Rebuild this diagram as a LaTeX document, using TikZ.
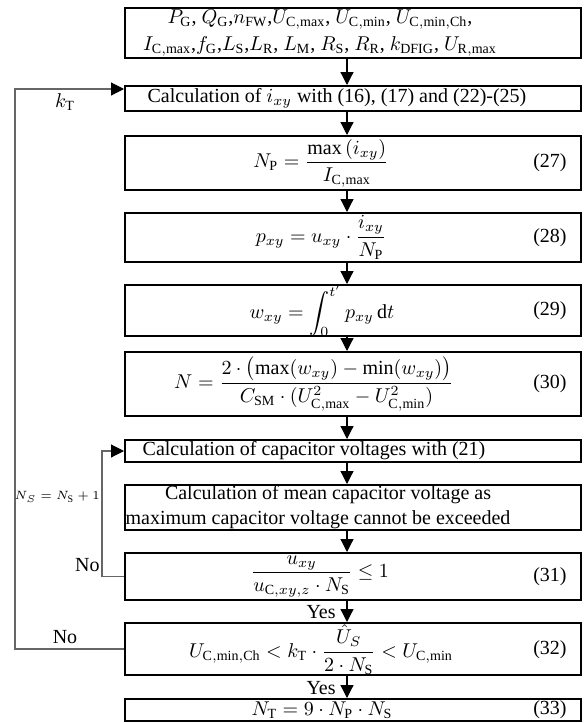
\documentclass[tikz,border=0pt]{standalone}
\usepackage{amsmath}
\usepackage{fontspec}
\setmainfont{Liberation Serif}
\usetikzlibrary{arrows.meta,fit}
\newcommand{\rmsub}[1]{\mathrm{#1}}
\begin{document}
\begin{tikzpicture}[x=0.5pt,y=-0.5pt,
  box/.style={draw=black,line width=1pt,inner sep=0pt,rectangle},
  flow/.style={draw=black,line width=0.6pt,-{Triangle[width=6.5pt,length=6.5pt]}},
  loopline/.style={draw=black!60,line width=0.55pt},
  looparr/.style={loopline,-{Triangle[width=6.5pt,length=6.5pt,color=black]}},
  txt/.style={inner sep=0pt,font=\fontsize{10}{12.5}\selectfont},
  eqno/.style={txt,anchor=east},
  small/.style={inner sep=0pt,font=\fontsize{6}{7}\selectfont}]
\useasboundingbox (0,0) rectangle (586,723);

% boxes
\node[box,fit={(125,8) (581,58)}] (b1) {};
\node[box,fit={(125,86) (581,111)}] (b2) {};
\node[box,fit={(125,136) (581,190)}] (b3) {};
\node[box,fit={(125,213) (581,262)}] (b4) {};
\node[box,fit={(125,285) (581,336)}] (b5) {};
\node[box,fit={(125,352) (581,416)}] (b6) {};
\node[box,fit={(125,440) (581,462)}] (b7) {};
\node[box,fit={(125,485) (581,530)}] (b8) {};
\node[box,fit={(125,553) (581,600)}] (b9) {};
\node[box,fit={(125,623) (581,675)}] (b10) {};
\node[box,fit={(125,699) (581,721)}] (b11) {};

% texts
\node[txt,align=center] (t1) at (320,33) {$P_\rmsub{G}$, $Q_\rmsub{G}$,$n_\rmsub{FW}$,$U_\rmsub{C,max}$, $U_\rmsub{C,min}$, $U_\rmsub{C,min,Ch}$,\\[1pt]
$I_\rmsub{C,max}$,$f_\rmsub{G}$,$L_\rmsub{S}$,$L_\rmsub{R}$, $L_\rmsub{M}$, $R_\rmsub{S}$, $R_\rmsub{R}$, $k_\rmsub{DFIG}$, $U_\rmsub{R,max}$};
\node[txt] (t2) at (337,98.5) {Calculation of $i_{xy}$ with (16), (17) and (22)-(25)};
\node[txt] (t3) at (321,163) {$N_\rmsub{P} = \dfrac{\max\left(i_{xy}\right)}{I_\rmsub{C,max}}$};
\node[eqno] (n3) at (567,163) {(27)};
\node[txt] (t4) at (321,237.5) {$p_{xy} = u_{xy}\cdot\dfrac{i_{xy}}{N_\rmsub{P}}$};
\node[eqno] (n4) at (567,237.5) {(28)};
\node[txt] (t5) at (322,310.5) {$w_{xy} = \displaystyle\int_0^{t'} p_{xy}\,\mathrm{d}t$};
\node[eqno] (n5) at (567,310.5) {(29)};
\node[txt] (t6) at (314,384) {$N = \dfrac{2\cdot\bigl(\max(w_{xy})-\min(w_{xy})\bigr)}{C_\rmsub{SM}\cdot(U_\rmsub{C,max}^2-U_\rmsub{C,min}^2)}$};
\node[eqno] (n6) at (567,384) {(30)};
\node[txt] (t7) at (314,451) {Calculation of capacitor voltages with (21)};
\node[txt,align=center] (t8) at (318,507.5) {\hspace*{10pt}Calculation of mean capacitor voltage as\\maximum capacitor voltage cannot be exceeded};
\node[txt] (t9) at (320,576.5) {$\dfrac{u_{xy}}{u_{\rmsub{C},xy,z}\cdot N_\rmsub{S}}\leq 1$};
\node[eqno] (n9) at (567,576.5) {(31)};
\node[txt] (t10) at (321,649.5) {$U_\rmsub{C,min,Ch} < k_\rmsub{T}\cdot\dfrac{\hat{U}_S}{2\cdot N_\rmsub{S}} < U_\rmsub{C,min}$};
\node[eqno] (n10) at (567,649.5) {(32)};
\node[txt] (t11) at (322,710) {$N_\rmsub{T} = 9\cdot N_\rmsub{P}\cdot N_\rmsub{S}$};
\node[eqno] (n11) at (567,710) {(33)};

% main flow arrows
\coordinate (ax) at (347,0);
\draw[flow] (b1.south -| ax) -- (b2.north -| ax);
\draw[flow] (b2.south -| ax) -- (b3.north -| ax);
\draw[flow] (b3.south -| ax) -- (b4.north -| ax);
\draw[flow] (b4.south -| ax) -- (b5.north -| ax);
\draw[flow] (b5.south -| ax) -- (b6.north -| ax);
\draw[flow] (b6.south -| ax) -- (b7.north -| ax);
\draw[flow] (b7.south -| ax) -- (b8.north -| ax);
\draw[flow] (b8.south -| ax) -- (b9.north -| ax);
\draw[flow] (b9.south -| ax) -- (b10.north -| ax);
\draw[flow] (b10.south -| ax) -- (b11.north -| ax);
\node[txt,anchor=east] (y1) at (336,612) {Yes};
\node[txt,anchor=east] (y2) at (336,688) {Yes};

% outer loop (k_T)
\coordinate (L1) at (15,0);
\coordinate (in2) at (125,89);
\draw[looparr] (b10.west) -- (b10.west -| L1) -- (L1 |- in2) -- (in2 -| b2.west);
\node[txt] (kT) at (65,102) {$k_\rmsub{T}$};
\node[txt] (no1) at (65,637) {No};

% inner loop (N_S)
\coordinate (L2) at (102,0);
\draw[looparr] (b9.west) -- (b9.west -| L2) -- (L2 |- b7.west) -- (b7.west);
\node[small,anchor=east] (ns) at (100,497) {$N_S = N_\rmsub{S} + 1$};
\node[txt,anchor=east] (no2) at (100,565) {No};
\end{tikzpicture}
\end{document}
